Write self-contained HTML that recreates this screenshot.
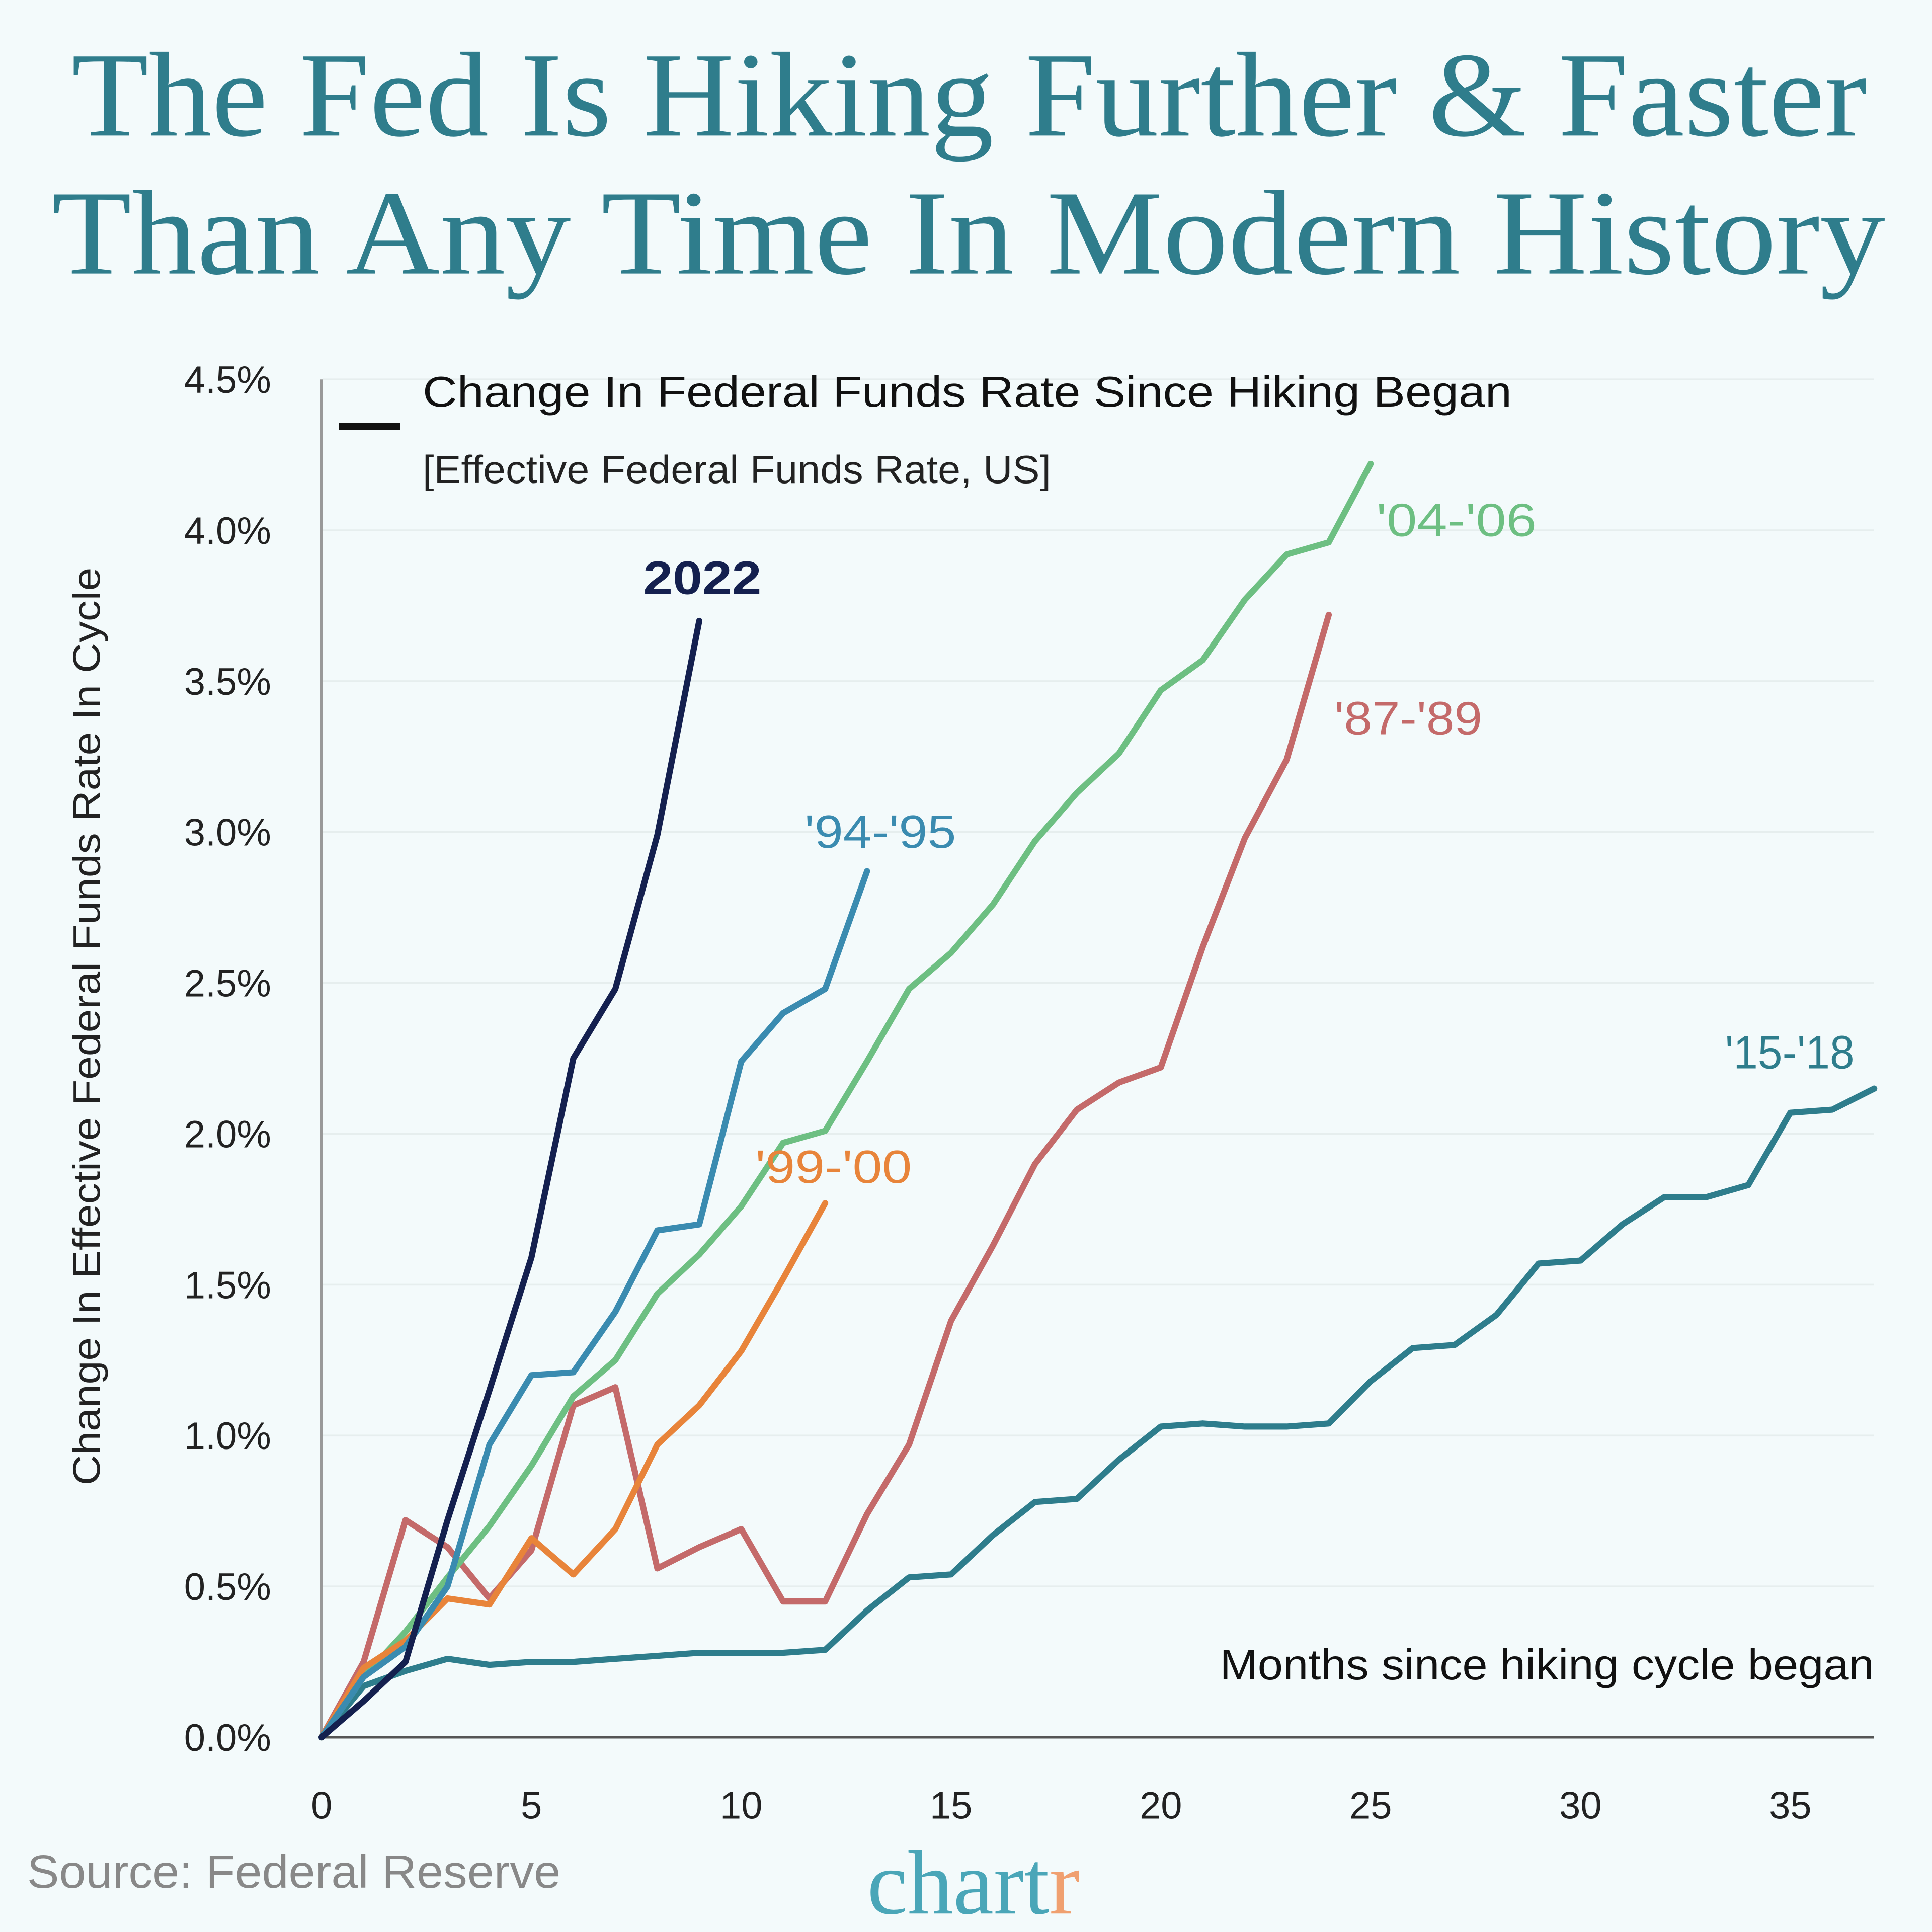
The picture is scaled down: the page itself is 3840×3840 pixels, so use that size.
<!DOCTYPE html>
<html><head><meta charset="utf-8"><style>
html,body{margin:0;padding:0;background:#f3fafb;}
svg{display:block;}
text{font-family:"Liberation Sans","DejaVu Sans",sans-serif;}
text.serif{font-family:"Liberation Serif","DejaVu Serif",serif;}
</style></head><body>
<svg id="s" width="3840" height="3840" viewBox="0 0 1568 1568" xmlns="http://www.w3.org/2000/svg">
<rect width="1568" height="1568" fill="#f3fafb"/>
<g fill="#2f7d8c" font-size="98">
<text class="serif" x="58" y="110" textLength="1457" lengthAdjust="spacingAndGlyphs">The Fed Is Hiking Further &amp; Faster</text>
<text class="serif" x="42" y="222" textLength="1488" lengthAdjust="spacingAndGlyphs">Than Any Time In Modern History</text>
</g>
<g id="grid" stroke="#e6eeee" stroke-width="1.5"></g>
<line x1="261" y1="308" x2="261" y2="1410" stroke="#999" stroke-width="2"/>
<line x1="261" y1="1410" x2="1521" y2="1410" stroke="#555" stroke-width="2"/>
<g id="yt" font-size="31" fill="#222" text-anchor="end"></g>
<g id="xt" font-size="31" fill="#222" text-anchor="middle"></g>
<text transform="translate(81,833) rotate(-90)" font-size="31" fill="#222" text-anchor="middle" textLength="745" lengthAdjust="spacingAndGlyphs">Change In Effective Federal Funds Rate In Cycle</text>
<line x1="275" y1="346" x2="325" y2="346" stroke="#111" stroke-width="6"/>
<text x="343" y="330" font-size="35" fill="#111" textLength="884" lengthAdjust="spacingAndGlyphs">Change In Federal Funds Rate Since Hiking Began</text>
<text x="343" y="392" font-size="32" fill="#222" textLength="510" lengthAdjust="spacingAndGlyphs">[Effective Federal Funds Rate, US]</text>
<g id="lines" fill="none" stroke-width="5" stroke-linejoin="round" stroke-linecap="round"></g>
<text x="522" y="482" font-size="38" font-weight="bold" fill="#14204f" textLength="96" lengthAdjust="spacingAndGlyphs">2022</text>
<text x="653" y="688" font-size="38" fill="#3a8bb0" textLength="123" lengthAdjust="spacingAndGlyphs">'94-'95</text>
<text x="1117" y="435" font-size="38" fill="#6dbf82" textLength="130" lengthAdjust="spacingAndGlyphs">'04-'06</text>
<text x="1083" y="596" font-size="38" fill="#c46a6a" textLength="120" lengthAdjust="spacingAndGlyphs">'87-'89</text>
<text x="613" y="960" font-size="38" fill="#e8843a" textLength="127" lengthAdjust="spacingAndGlyphs">'99-'00</text>
<text x="1400" y="867" font-size="38" fill="#2e7d8c" textLength="105" lengthAdjust="spacingAndGlyphs">'15-'18</text>
<text x="990" y="1363" font-size="35" fill="#111" textLength="531" lengthAdjust="spacingAndGlyphs">Months since hiking cycle began</text>
<text x="22" y="1532" font-size="38" fill="#888" textLength="433" lengthAdjust="spacingAndGlyphs">Source: Federal Reserve</text>
<text class="serif" x="790" y="1553" font-size="74" fill="#4aa6b8" text-anchor="middle">chart<tspan fill="#f0a070">r</tspan></text>
</svg>
<script>
var NS="http://www.w3.org/2000/svg";
function px(m){return 261+34.057*m;}
function py(v){return 1410-244.9*v;}
var g=document.getElementById('grid'),yt=document.getElementById('yt'),xt=document.getElementById('xt');
for(var i=0;i<=9;i++){var v=i*0.5,y=py(v);
 if(i>0){var l=document.createElementNS(NS,'line');l.setAttribute('x1',262);l.setAttribute('x2',1521);l.setAttribute('y1',y);l.setAttribute('y2',y);g.appendChild(l);}
 var t=document.createElementNS(NS,'text');t.setAttribute('x',220);t.setAttribute('y',y+11);t.textContent=v.toFixed(1)+'%';yt.appendChild(t);}
for(var m=0;m<=35;m+=5){var t=document.createElementNS(NS,'text');t.setAttribute('x',px(m));t.setAttribute('y',1476);t.textContent=m;xt.appendChild(t);}
var S=[
["#2e7d8c",[0,.17,.22,.26,.24,.25,.25,.26,.27,.28,.28,.28,.29,.42,.53,.54,.67,.78,.79,.92,1.03,1.04,1.03,1.03,1.04,1.18,1.29,1.3,1.4,1.57,1.58,1.7,1.79,1.79,1.83,2.07,2.08,2.15]],
["#c46a6a",[0,.25,.72,.63,.46,.62,1.1,1.16,.56,.63,.69,.45,.45,.74,.97,1.38,1.63,1.9,2.08,2.17,2.22,2.62,2.98,3.24,3.72]],
["#6dbf82",[0,.2,.35,.53,.7,.9,1.13,1.25,1.47,1.6,1.76,1.97,2.01,2.24,2.48,2.6,2.76,2.97,3.13,3.26,3.47,3.57,3.77,3.92,3.96,4.22]],
["#e8843a",[0,.23,.32,.46,.44,.66,.54,.69,.97,1.1,1.28,1.52,1.77]],
["#3a8bb0",[0,.2,.3,.5,.97,1.2,1.21,1.41,1.68,1.7,2.24,2.4,2.48,2.87]],
["#14204f",[0,.12,.25,.72,1.15,1.59,2.25,2.48,2.99,3.7]]];
var L=document.getElementById('lines');
S.forEach(function(s){var p=document.createElementNS(NS,'polyline');
 p.setAttribute('points',s[1].map(function(v,i){return px(i).toFixed(1)+','+py(v).toFixed(1);}).join(' '));
 p.setAttribute('stroke',s[0]);L.appendChild(p);});
</script>
</body></html>
